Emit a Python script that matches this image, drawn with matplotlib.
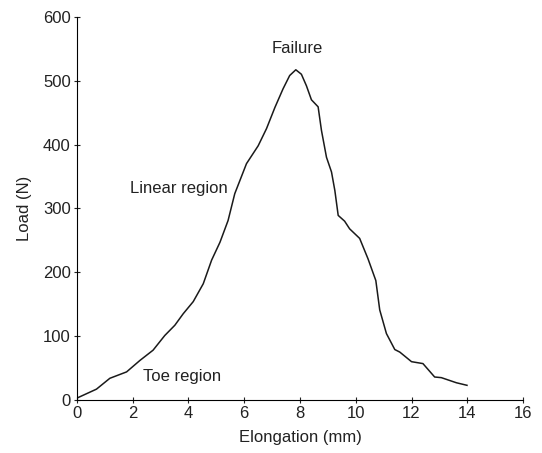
import numpy as np
import matplotlib
matplotlib.use("Agg")
import matplotlib.pyplot as plt

plt.rcParams['font.family'] = ['Liberation Sans', 'DejaVu Sans']

# load-elongation curve
elong = [0.0, 0.7, 1.18, 1.78, 2.26, 2.73, 3.15, 3.51, 3.81, 4.17, 4.53, 4.83,
         5.13, 5.42, 5.66, 6.08, 6.5, 6.8, 7.1, 7.39, 7.63, 7.85, 8.05, 8.23,
         8.41, 8.65, 8.77, 8.95, 9.13, 9.25, 9.37, 9.6, 9.78, 10.14, 10.44,
         10.72, 10.86, 11.1, 11.4, 11.58, 12.0, 12.41, 12.83, 13.07, 13.61, 13.99]
load = [3, 17, 34, 44, 62, 78, 101, 117, 135, 154, 182, 219,
        247, 281, 323, 370, 398, 425, 458, 487, 508, 517, 510, 492,
        470, 459, 422, 380, 357, 328, 289, 280, 268, 253, 221,
        187, 141, 104, 79, 75, 60, 57, 36, 35, 27, 23]

notes = ["Failure", "Linear region", "Toe region"]
note_x = [7.9, 3.67, 3.76]
note_y = [551, 331, 37]

fig = plt.figure(figsize=(5.42, 4.53), dpi=100)
ax = fig.add_axes([0.142, 0.117, 0.823, 0.846])
ax.plot(elong, load, color='#1a1a1a', lw=1.1, solid_joinstyle='round')

for t, x, y in zip(notes, note_x, note_y):
    ax.text(x, y, t, ha='center', va='center', fontsize=12, color='#222222')

ax.set_xlim(0, 16)
ax.set_ylim(0, 600)
ax.set_xticks(np.arange(0, 17, 2))
ax.set_yticks(np.arange(0, 601, 100))
ax.spines['top'].set_visible(False)
ax.spines['right'].set_visible(False)
ax.tick_params(direction='inout', length=5, labelsize=12, colors='#222222', pad=2)
ax.set_xlabel("Elongation (mm)", fontsize=12, color='#222222', labelpad=6)
ax.set_ylabel("Load (N)", fontsize=12, color='#222222', labelpad=8)

fig.savefig("out.png", dpi=100)
